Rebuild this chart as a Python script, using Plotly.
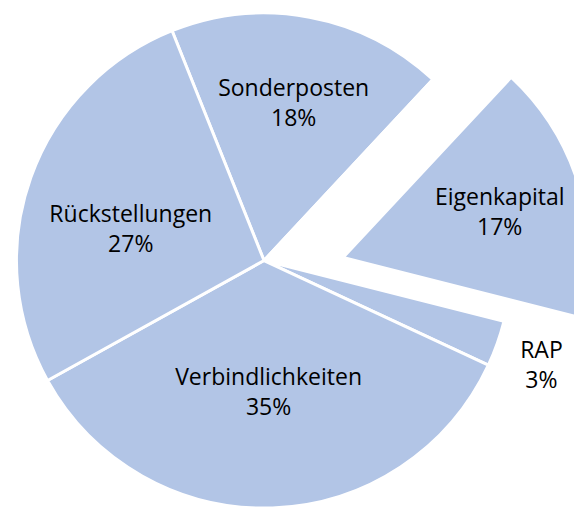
import plotly.graph_objects as go

labels = ["Sonderposten", "Eigenkapital", "RAP", "Verbindlichkeiten", "Rückstellungen"]
values = [18, 17, 3, 35, 27]
exploded = "Eigenkapital"
outside_label = "RAP"
lowered_labels = ["RAP", "Rückstellungen"]   # labels sitting a little lower in the original

W, H = 600, 510
blue = "#B2C5E6"
clear = "rgba(0,0,0,0)"
font = dict(family="Open Sans, Lato, sans-serif", size=23, color="#000000")
tmpl = "%{label}<br>%{percent}"


def template(l):
    return ("\u00a0<br>" + tmpl) if l in lowered_labels else tmpl


# main pie (exploded slice left empty)
colA = [clear if l == exploded else blue for l in labels]
txtA = ["" if l == exploded else template(l) for l in labels]
posA = ["none" if l == exploded else ("outside" if l == outside_label else "inside") for l in labels]

# exploded slice drawn by a second pie whose centre is shifted outward
colB = [blue if l == exploded else clear for l in labels]
txtB = [tmpl if l == exploded else "" for l in labels]
posB = ["inside" if l == exploded else "none" for l in labels]
lwB = [3 if l == exploded else 0 for l in labels]

common = dict(labels=labels, values=values, sort=False, direction="clockwise",
              rotation=-21.8, showlegend=False, textfont=font,
              insidetextorientation="horizontal", hoverinfo="label+percent")

fig = go.Figure()
fig.add_trace(go.Pie(**common, marker=dict(colors=colA, line=dict(color="white", width=3)),
                     texttemplate=txtA, textposition=posA,
                     domain=dict(x=[7 / W, 505 / W], y=[(H - 500) / H, (H - 2) / H])))
fig.add_trace(go.Pie(**common, marker=dict(colors=colB, line=dict(color="white", width=lwB)),
                     texttemplate=txtB, textposition=posB,
                     domain=dict(x=[87 / W, 583 / W], y=[(H - 496) / H, 1])))

fig.update_layout(width=W, height=H, margin=dict(l=0, r=0, t=0, b=0),
                  paper_bgcolor="white", plot_bgcolor="white")
fig.write_html("out.html")
